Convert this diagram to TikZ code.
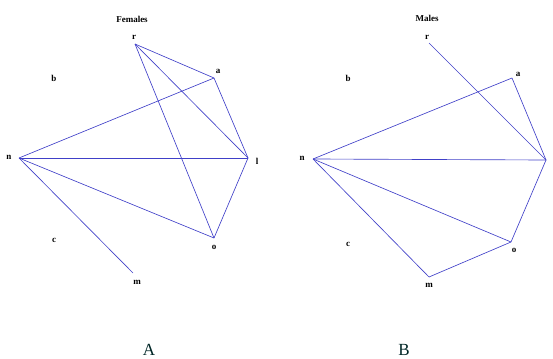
\documentclass[tikz,border=0pt]{standalone}
\usepackage{fontspec}
\setmainfont{Liberation Serif}
\begin{document}
\begin{tikzpicture}[x=1pt,y=-1pt,
  lbl/.style={font=\bfseries\fontsize{9}{10}\selectfont, inner sep=0pt},
  ttl/.style={font=\bfseries\fontsize{9}{10}\selectfont, inner sep=0pt},
  panel/.style={font=\fontsize{17}{19}\selectfont, text=black!70!teal, inner sep=0pt},
  edge/.style={draw={rgb,255:red,64;green,64;blue,200}, line width=0.65pt}]
\useasboundingbox (0,0) rectangle (553,358);
% Panel A
\node[ttl] (tA) at (132,19) {Females};
\coordinate (rA) at (135,44);
\coordinate (aA) at (214,78);
\coordinate (nA) at (19,158);
\coordinate (lA) at (248,158);
\coordinate (oA) at (214,238);
\coordinate (mA) at (133,273);
\node[lbl] (rAl) at (134,37) {r};
\node[lbl] (aAl) at (218,71) {a};
\node[lbl] (bAl) at (54,78) {b};
\node[lbl] (nAl) at (9,157) {n};
\node[lbl] (lAl) at (257,161) {l};
\node[lbl] (oAl) at (214,247) {o};
\node[lbl] (cAl) at (54,240) {c};
\node[lbl] (mAl) at (137,282) {m};
\draw[edge] (rA) -- (aA);
\draw[edge] (rA) -- (lA);
\draw[edge] (rA) -- (oA);
\draw[edge] (nA) -- (aA);
\draw[edge] (nA) -- (lA);
\draw[edge] (nA) -- (oA);
\draw[edge] (nA) -- (mA);
\draw[edge] (aA) -- (lA);
\draw[edge] (lA) -- (oA);
\node[panel] (pA) at (149,350) {A};
% Panel B
\node[ttl] (tB) at (427,18) {Males};
\coordinate (rB) at (429,43);
\coordinate (aB) at (512,78);
\coordinate (nB) at (313,159);
\coordinate (lB) at (546,160);
\coordinate (oB) at (511,242);
\coordinate (mB) at (429,277);
\node[lbl] (rBl) at (427,37) {r};
\node[lbl] (aBl) at (518,74) {a};
\node[lbl] (bBl) at (348,78) {b};
\node[lbl] (nBl) at (302,158) {n};
\node[lbl] (oBl) at (514,250) {o};
\node[lbl] (cBl) at (348,244) {c};
\node[lbl] (mBl) at (429,285) {m};
\draw[edge] (rB) -- (lB);
\draw[edge] (nB) -- (aB);
\draw[edge] (aB) -- (lB);
\draw[edge] (nB) -- (lB);
\draw[edge] (nB) -- (oB);
\draw[edge] (nB) -- (mB);
\draw[edge] (mB) -- (oB);
\draw[edge] (oB) -- (lB);
\node[panel] (pB) at (404,350) {B};
\end{tikzpicture}
\end{document}
